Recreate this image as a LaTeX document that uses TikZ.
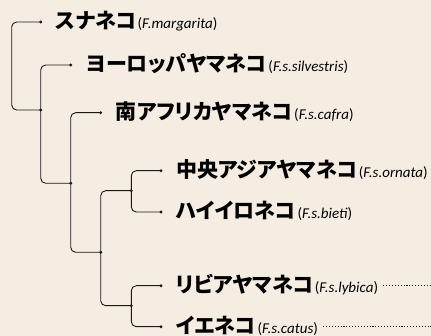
\documentclass[tikz,border=0pt]{standalone}
\usepackage{fontspec}
\newfontfamily\jp[RawFeature=+palt]{Noto Sans CJK JP}
\newfontfamily\lat{Carlito}
\usetikzlibrary{calc}
\definecolor{bg}{RGB}{245,237,226}
\definecolor{ink}{RGB}{25,25,25}
\tikzset{
  dotnode/.style={circle,fill=ink,inner sep=0pt,minimum size=3.2pt},
  branch/.style={draw=ink,line width=0.9pt,rounded corners=5pt},
  taxon/.style={anchor=base west,inner sep=0pt,text=black},
  dotline/.style={draw=ink,line width=1.2pt,dash pattern=on 1.1pt off 1.8pt}
}
\newcommand{\catname}[2]{{\jp\bfseries\fontsize{21}{21}\selectfont #1}\hspace{1.5pt}{\lat\fontsize{15}{15}\selectfont (\textit{#2})}}
\begin{document}
\begin{tikzpicture}[x=1pt,y=-1pt]
\fill[bg] (0,0) rectangle (431,336);
\useasboundingbox (0,0) rectangle (431,336);
% leaves
\node[dotnode] (l1) at (40.7,22) {};
\node[dotnode] (l2) at (70.7,65) {};
\node[dotnode] (l3) at (100.7,112.7) {};
\node[dotnode] (l4) at (161,170.7) {};
\node[dotnode] (l5) at (161,212) {};
\node[dotnode] (l6) at (161,285.7) {};
\node[dotnode] (l7) at (161,326.7) {};
% internal
\coordinate (r) at (11.7,66);
\node[dotnode] (nA) at (40.7,110) {};
\node[dotnode] (nB) at (70.7,183.3) {};
\node[dotnode] (nC) at (100.7,252.3) {};
\node[dotnode] (nD) at (131.3,190.7) {};
\node[dotnode] (nE) at (131.3,305.7) {};
% branches
\draw[branch] (l1.center) -| (r) |- (nA.center);
\draw[branch] (l2.center) -| (nA.center) |- (nB.center);
\draw[branch] (l3.center) -| (nB.center) |- (nC.center);
\draw[branch] (nD.center) -| (nC.center) |- (nE.center);
\draw[branch] (l4.center) -| (nD.center) |- (l5.center);
\draw[branch] (l6.center) -| (nE.center) |- (l7.center);
% labels
\node[taxon] (t1) at ([xshift=15pt,yshift=-6.5pt]l1.center) {\catname{スナネコ}{F.margarita}};
\node[taxon] (t2) at ([xshift=15pt,yshift=-6.5pt]l2.center) {\catname{ヨーロッパヤマネコ}{F.s.silvestris}};
\node[taxon] (t3) at ([xshift=15pt,yshift=-6.5pt]l3.center) {\catname{南アフリカヤマネコ}{F.s.cafra}};
\node[taxon] (t4) at ([xshift=15pt,yshift=-6.5pt]l4.center) {\catname{中央アジアヤマネコ}{F.s.ornata}};
\node[taxon] (t5) at ([xshift=15pt,yshift=-6.5pt]l5.center) {\catname{ハイイロネコ}{F.s.bieti}};
\node[taxon] (t6) at ([xshift=15pt,yshift=-6.5pt]l6.center) {\catname{リビアヤマネコ}{F.s.lybica}};
\node[taxon] (t7) at ([xshift=15pt,yshift=-6.5pt]l7.center) {\catname{イエネコ}{F.s.catus}};
% dotted leaders
\coordinate (e6) at (431,285.7);
\coordinate (e7) at (431,326.7);
\draw[dotline] ([xshift=5pt]t6.east |- l6) -- (e6);
\draw[dotline] ([xshift=5pt]t7.east |- l7) -- (e7);
\end{tikzpicture}
\end{document}
